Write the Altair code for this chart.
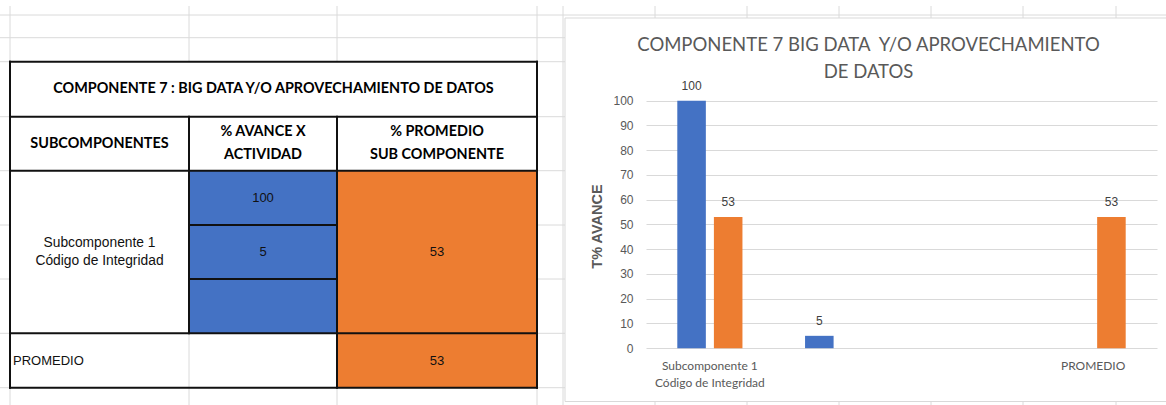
import altair as alt
import pandas as pd

# ---- values (table and chart share them) ----
categories = ["Subcomponente 1|Código de Integridad", " ", "  ", "PROMEDIO"]
avance_actividad = [100, 5, None, None]
promedio_sub = [53, None, None, 53]
series = ["% AVANCE X ACTIVIDAD", "% PROMEDIO SUB COMPONENTE"]
series_colors = ["#4472C4", "#ED7D31"]
y_ticks = list(range(0, 101, 10))

chart_title = "COMPONENTE 7 BIG DATA\u00a0 Y/O APROVECHAMIENTO\nDE DATOS"
table_title = "COMPONENTE 7 : BIG DATA Y/O APROVECHAMIENTO DE DATOS"
table_headers = ["SUBCOMPONENTES", "% AVANCE X\nACTIVIDAD", "% PROMEDIO\nSUB COMPONENTE"]
axis_title = "T% AVANCE"

# ---- worksheet layout, in screen pixels ----
W, H = 1166, 405
sheet_cols = [10, 189, 337, 537, 563, 655, 747, 839, 931, 1023, 1116]
sheet_rows = [15, 37.7, 61.7, 116.7, 170.7, 225, 279, 333.3, 387.7]
grid_top = 6
table_x = sheet_cols[:4]
table_y = sheet_rows[2:]
chart_box = (565, 18, W + 10, 401.5)      # embedded chart object
plot_x = (646, 1157)                        # plot area inside the chart object
plot_y = (348.2, 100.7)

GRID = "#dadada"
BORDER = "#111111"
TEXT_GREY = "#595959"
CALIBRI = "Lato"
ARIAL = "Liberation Sans"
LINE_H = {"head": 23, "body": 18.5}

# worksheet gridlines, hidden behind the chart object
grid = []
for x in sheet_cols:
    if x < chart_box[0]:
        grid.append(dict(x=x, x2=x, y=grid_top, y2=H))
    else:
        grid.append(dict(x=x, x2=x, y=grid_top, y2=chart_box[1]))
        grid.append(dict(x=x, x2=x, y=chart_box[3], y2=H))
for y in sheet_rows:
    right = W if y < chart_box[1] else chart_box[0]
    grid.append(dict(x=0, x2=right, y=y, y2=y))
grid_df = pd.DataFrame(grid)

blue, orange = series_colors
sub_label = categories[0].replace("|", "\n")


def cell(c0, c1, r0, r1, fill, text="", kind="body", align="center"):
    # multi-line text is placed by its first line, so centre the whole block
    n_lines = text.count("\n") + 1
    cy = (table_y[r0] + table_y[r1]) / 2 - (n_lines - 1) * LINE_H[kind] / 2
    cx = (table_x[c0] + table_x[c1]) / 2 if align == "center" else table_x[c0] + 3
    return dict(x=table_x[c0], x2=table_x[c1], y=table_y[r0], y2=table_y[r1],
                fill=fill, text=text, kind=kind, align=align, cx=cx, cy=cy,
                big=n_lines > 1 and kind == "body")


def fmt(v):
    return "" if v is None else f"{v:g}"


cells = pd.DataFrame([
    cell(0, 3, 0, 1, "white", table_title, "head"),
    cell(0, 1, 1, 2, "white", table_headers[0], "head"),
    cell(1, 2, 1, 2, "white", table_headers[1], "head"),
    cell(2, 3, 1, 2, "white", table_headers[2], "head"),
    cell(0, 1, 2, 5, "white", sub_label),
    cell(1, 2, 2, 3, blue, fmt(avance_actividad[0])),
    cell(1, 2, 3, 4, blue, fmt(avance_actividad[1])),
    cell(1, 2, 4, 5, blue, fmt(avance_actividad[2])),
    cell(2, 3, 2, 5, orange, fmt(promedio_sub[0])),
    cell(0, 1, 5, 6, "transparent", categories[3], align="left"),
    cell(1, 2, 5, 6, "transparent", fmt(avance_actividad[3])),
    cell(2, 3, 5, 6, orange, fmt(promedio_sub[3])),
])

tx, ty = table_x, table_y
borders = pd.DataFrame([
    dict(x=tx[0], x2=tx[3], y=ty[0], y2=ty[0]),
    dict(x=tx[0], x2=tx[3], y=ty[6], y2=ty[6]),
    dict(x=tx[0], x2=tx[0], y=ty[0], y2=ty[6]),
    dict(x=tx[3], x2=tx[3], y=ty[0], y2=ty[6]),
    dict(x=tx[0], x2=tx[3], y=ty[1], y2=ty[1]),
    dict(x=tx[0], x2=tx[3], y=ty[2], y2=ty[2]),
    dict(x=tx[0], x2=tx[3], y=ty[5], y2=ty[5]),
    dict(x=tx[1], x2=tx[1], y=ty[1], y2=ty[5]),
    dict(x=tx[2], x2=tx[2], y=ty[1], y2=ty[6]),
    dict(x=tx[1], x2=tx[2], y=ty[3], y2=ty[3]),
    dict(x=tx[1], x2=tx[2], y=ty[4], y2=ty[4]),
])

frame_df = pd.DataFrame([dict(x=chart_box[0], x2=chart_box[2], y=chart_box[1], y2=chart_box[3])])
title_df = pd.DataFrame([dict(cx=(chart_box[0] + W + 4) / 2 + 1, cy=44.5, text=chart_title)])

sx = alt.Scale(domain=[0, W], nice=False, zero=False)
sy = alt.Scale(domain=[0, H], nice=False, zero=False, reverse=True)


def pos(x="x:Q", y="y:Q"):
    return dict(x=alt.X(x, scale=sx, axis=None), y=alt.Y(y, scale=sy, axis=None))


grid_layer = alt.Chart(grid_df).mark_rule(color=GRID, strokeWidth=1).encode(
    **pos(), x2="x2:Q", y2="y2:Q")

cell_layer = alt.Chart(cells).mark_rect(strokeWidth=0).encode(
    **pos(), x2="x2:Q", y2="y2:Q", fill=alt.Fill("fill:N", scale=None))

border_layer = alt.Chart(borders).mark_rule(color=BORDER, strokeWidth=2, strokeCap="square").encode(
    **pos(), x2="x2:Q", y2="y2:Q")

head_text = alt.Chart(cells).transform_filter("datum.kind == 'head'").mark_text(
    font=CALIBRI, fontSize=14.4, fontWeight="bold", color="#000000",
    lineBreak="\n", lineHeight=LINE_H["head"], baseline="middle", align="center"
).encode(**pos("cx:Q", "cy:Q"), text="text:N")

body_multi = alt.Chart(cells).transform_filter("datum.big").mark_text(
    font=ARIAL, fontSize=13.8, color="#111111",
    lineBreak="\n", lineHeight=LINE_H["body"], baseline="middle", align="center"
).encode(**pos("cx:Q", "cy:Q"), text="text:N")

body_center = alt.Chart(cells).transform_filter(
    "datum.kind == 'body' && datum.align == 'center' && !datum.big").mark_text(
    font=ARIAL, fontSize=13, color="#111111", baseline="middle", align="center"
).encode(**pos("cx:Q", "cy:Q"), text="text:N")

body_left = alt.Chart(cells).transform_filter("datum.align == 'left'").mark_text(
    font=ARIAL, fontSize=13, color="#111111", baseline="middle", align="left"
).encode(**pos("cx:Q", "cy:Q"), text="text:N")

frame_layer = alt.Chart(frame_df).mark_rect(fill=None, stroke="#d9d9d9", strokeWidth=1).encode(
    **pos(), x2="x2:Q", y2="y2:Q")

title_layer = alt.Chart(title_df).mark_text(
    font=CALIBRI, fontSize=18.5, color=TEXT_GREY, lineBreak="\n", lineHeight=27,
    baseline="middle", align="center"
).encode(**pos("cx:Q", "cy:Q"), text="text:N")

sheet = alt.layer(grid_layer, cell_layer, frame_layer, border_layer,
                  head_text, body_multi, body_center, body_left, title_layer)

# ---- clustered column chart ----
rows = []
for cat, a, p in zip(categories, avance_actividad, promedio_sub):
    if a is not None:
        rows.append(dict(cat=cat, serie=series[0], valor=a))
    if p is not None:
        rows.append(dict(cat=cat, serie=series[1], valor=p))
bars_df = pd.DataFrame(rows)

x_enc = alt.X(
    "cat:N", sort=categories,
    scale=alt.Scale(domain=categories, range=list(plot_x), paddingInner=0.49, paddingOuter=0.245),
    axis=alt.Axis(orient="bottom", offset=plot_y[0] - H, title=None, domain=False, ticks=False,
                  labelExpr="split(datum.label, '|')", labelAngle=0, labelFont=CALIBRI,
                  labelFontSize=12, labelColor=TEXT_GREY, labelPadding=12, labelLineHeight=17,
                  labelOverlap=False, labelLimit=0, grid=False),
)
xo_enc = alt.XOffset("serie:N", sort=series,
                     scale=alt.Scale(domain=series, paddingInner=0.22, paddingOuter=0))
y_enc = alt.Y(
    "valor:Q",
    scale=alt.Scale(domain=[0, 100], range=list(plot_y), nice=False),
    axis=alt.Axis(orient="left", offset=-plot_x[0], values=y_ticks, grid=True, gridColor="#d9d9d9",
                  gridWidth=1, domain=False, ticks=False, labelPadding=13, labelFont=ARIAL,
                  labelFontSize=12, labelColor=TEXT_GREY, title=axis_title, titleFont=ARIAL,
                  titleFontSize=14.5, titleFontWeight="bold", titleColor=TEXT_GREY,
                  titleAngle=270, titleX=597 - plot_x[0], titleY=226, titleAlign="center",
                  titleBaseline="middle"),
)

bars = alt.Chart(bars_df).mark_bar().encode(
    x=x_enc, xOffset=xo_enc, y=y_enc,
    color=alt.Color("serie:N", scale=alt.Scale(domain=series, range=series_colors), legend=None),
)
labels = alt.Chart(bars_df).mark_text(
    font=ARIAL, fontSize=12, color="#404040", dy=-15, baseline="middle"
).encode(x=x_enc, xOffset=xo_enc, y=y_enc, text=alt.Text("valor:Q", format=".0f"))

column_chart = alt.layer(bars, labels)

chart = alt.layer(sheet, column_chart).resolve_scale(
    x="independent", y="independent", color="independent"
).properties(
    width=W, height=H, padding=0, autosize=alt.AutoSizeParams(type="none"),
    background="white",
).configure_view(stroke=None)

chart.save("out.html", embed_options={"renderer": "svg", "actions": False})
